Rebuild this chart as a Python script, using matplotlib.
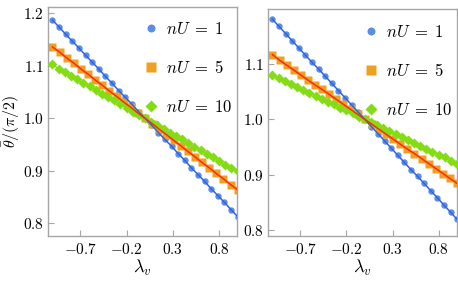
import matplotlib
matplotlib.use("Agg")
import matplotlib.pyplot as plt

plt.rcParams['mathtext.fontset'] = 'cm'
plt.rcParams['font.family'] = ['DejaVu Serif']

# ---- data ----
x_blue = [-1.000, -0.929, -0.857, -0.786, -0.714, -0.643, -0.571, -0.500, -0.429, -0.357,
          -0.286, -0.214, -0.143, -0.071, 0.000, 0.071, 0.143, 0.214, 0.286, 0.357,
          0.429, 0.500, 0.571, 0.643, 0.714, 0.786, 0.857, 0.929, 1.000]
y_blue_left = [1.187, 1.174, 1.160, 1.147, 1.134, 1.120, 1.107, 1.094, 1.080, 1.067,
               1.053, 1.040, 1.027, 1.013, 1.000, 0.987, 0.973, 0.960, 0.947, 0.933,
               0.920, 0.906, 0.893, 0.880, 0.866, 0.853, 0.840, 0.826, 0.813]
y_blue_right = [1.181, 1.168, 1.155, 1.142, 1.129, 1.116, 1.103, 1.091, 1.078, 1.065,
                1.052, 1.039, 1.026, 1.013, 1.000, 0.987, 0.974, 0.961, 0.948, 0.935,
                0.922, 0.909, 0.897, 0.884, 0.871, 0.858, 0.845, 0.832, 0.819]

x_orange = [-1.000, -0.923, -0.846, -0.769, -0.692, -0.615, -0.538, -0.462, -0.385, -0.308,
            -0.231, -0.154, -0.077, 0.000, 0.077, 0.154, 0.231, 0.308, 0.385, 0.462,
            0.538, 0.615, 0.692, 0.769, 0.846, 0.923, 1.000]
y_orange_left = [1.136, 1.126, 1.115, 1.105, 1.094, 1.084, 1.073, 1.063, 1.052, 1.042,
                 1.031, 1.021, 1.010, 1.000, 0.990, 0.979, 0.969, 0.958, 0.948, 0.937,
                 0.927, 0.916, 0.906, 0.895, 0.885, 0.874, 0.864]
y_orange_right = [1.117, 1.107, 1.098, 1.089, 1.080, 1.071, 1.062, 1.054, 1.045, 1.036,
                  1.027, 1.018, 1.009, 1.000, 0.991, 0.982, 0.973, 0.964, 0.955, 0.946,
                  0.938, 0.929, 0.920, 0.911, 0.902, 0.893, 0.884]

x_green = [-1.000, -0.933, -0.867, -0.800, -0.733, -0.667, -0.600, -0.533, -0.467, -0.400,
           -0.333, -0.267, -0.200, -0.133, -0.067, 0.000, 0.067, 0.133, 0.200, 0.267,
           0.333, 0.400, 0.467, 0.533, 0.600, 0.667, 0.733, 0.800, 0.867, 0.933, 1.000]
y_green_left = [1.103, 1.094, 1.088, 1.081, 1.074, 1.067, 1.061, 1.054, 1.047, 1.040,
                1.034, 1.027, 1.020, 1.013, 1.007, 1.000, 0.993, 0.987, 0.980, 0.973,
                0.966, 0.960, 0.953, 0.946, 0.939, 0.933, 0.926, 0.919, 0.912, 0.906, 0.899]
y_green_right = [1.080, 1.075, 1.069, 1.064, 1.059, 1.053, 1.048, 1.043, 1.037, 1.032,
                 1.027, 1.021, 1.016, 1.011, 1.005, 1.000, 0.995, 0.989, 0.984, 0.979,
                 0.973, 0.968, 0.963, 0.957, 0.952, 0.947, 0.941, 0.936, 0.931, 0.925, 0.920]

labels = [r'$nU\;=\;1$', r'$nU\;=\;5$', r'$nU\;=\;10$']
xticks = [-0.7, -0.2, 0.3, 0.8]
xticklabels = [r'$-0.7$', r'$-0.2$', r'$0.3$', r'$0.8$']
yticks_left = [0.8, 0.9, 1.0, 1.1, 1.2]
yticklabels_left = [r'$0.8$', r'$0.9$', r'$1.0$', r'$1.1$', r'$1.2$']
yticks_right = [0.8, 0.9, 1.0, 1.1]
yticklabels_right = [r'$0.8$', r'$0.9$', r'$1.0$', r'$1.1$']

# ---- styles ----
c_blue_pt = '#5a8ee6'
c_blue_ln = '#2f62ea'
c_orange = '#f0a020'
c_red = '#ff2a0a'
c_green = '#84dc14'
frame_c = '#a6a6a6'

fig = plt.figure(figsize=(4.58, 2.85), dpi=100)
axL = fig.add_axes([48.3/458, 1-236/285, (237-48.3)/458, (236-7)/285])
axR = fig.add_axes([268.3/458, 1-236/285, (456.5-268.3)/458, (236-9.3)/285])


def draw(ax, yb, yo, yg, ylim, yt, ytl, leg_y):
    hb, = ax.plot(x_blue, yb, 'o', ms=4.6, color=c_blue_pt, mec='none', zorder=2, label=labels[0])
    ho, = ax.plot(x_orange, yo, 's', ms=6.0, color=c_orange, mec='none', zorder=2, label=labels[1])
    hg, = ax.plot(x_green, yg, 'D', ms=5.0, color=c_green, mec='none', zorder=3, label=labels[2])
    ax.plot(x_blue, yb, '-', lw=1.1, color=c_blue_ln, zorder=4)
    ax.plot(x_orange, yo, '-', lw=1.1, color=c_red, zorder=4)
    ax.plot(x_green, yg, '-', lw=1.0, color=c_green, zorder=3)
    ax.set_xlim(-1.045, 0.993)
    ax.set_ylim(*ylim)
    ax.set_xticks(xticks, labels=xticklabels)
    ax.set_yticks(yt, labels=ytl)
    for s in ax.spines.values():
        s.set_color(frame_c)
        s.set_linewidth(1.0)
    ax.tick_params(direction='in', length=4, width=0.8, color=frame_c,
                   labelsize=11, pad=3, top=False, right=False)
    ax.tick_params(axis='x', pad=4)
    ax.set_xlabel(r'$\lambda_v$', fontsize=13, labelpad=1)
    ax.legend(handles=[hb, ho, hg], loc='upper left', bbox_to_anchor=(0.51, leg_y),
              frameon=False, fontsize=12, handlelength=0.8, handletextpad=0.5,
              labelspacing=1.32, borderpad=0, borderaxespad=0, markerscale=1.25)


draw(axL, y_blue_left, y_orange_left, y_green_left, (0.776, 1.212), yticks_left, yticklabels_left, 0.94)
draw(axR, y_blue_right, y_orange_right, y_green_right, (0.789, 1.199), yticks_right, yticklabels_right, 0.935)
axL.set_ylabel(r'$\bar{\theta}/(\pi/2)$', fontsize=11.5)
axL.yaxis.set_label_coords(-0.14, 0.5)

fig.savefig('out.png', dpi=100)
